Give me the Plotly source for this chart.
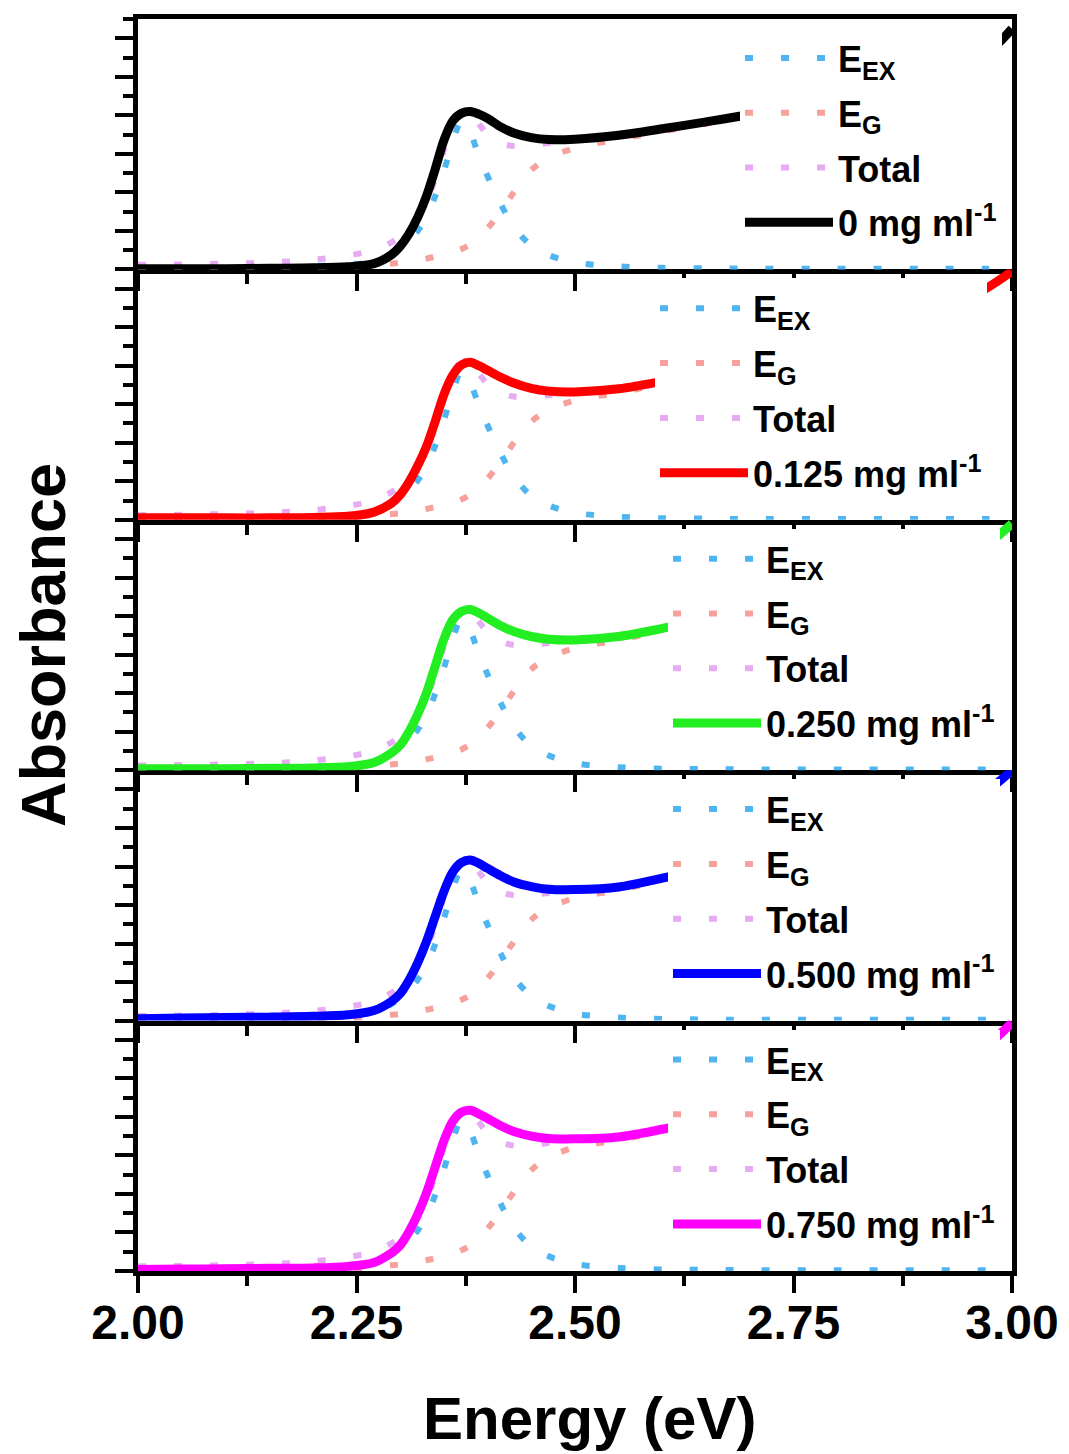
import plotly.graph_objects as go
from plotly.subplots import make_subplots

# ---------------- data ----------------
energy = [2.00, 2.05, 2.10, 2.15, 2.20, 2.24, 2.27, 2.29, 2.30, 2.31, 2.32, 2.33, 2.34, 2.35,
          2.36, 2.37, 2.38, 2.39, 2.40, 2.415, 2.43, 2.45, 2.47, 2.50, 2.55, 2.60, 2.65,
          2.70, 2.80, 2.90, 2.97, 3.00]

x_ticks = [2.00, 2.25, 2.50, 2.75, 3.00]
x_tick_labels = ["2.00", "2.25", "2.50", "2.75", "3.00"]

sample_labels = ["0 mg ml<sup>-1</sup>", "0.125 mg ml<sup>-1</sup>", "0.250 mg ml<sup>-1</sup>",
                 "0.500 mg ml<sup>-1</sup>", "0.750 mg ml<sup>-1</sup>"]
sample_colors = ["#000000", "#FF0000", "#22EE22", "#0000FF", "#FF00FF"]

# measured absorbance (arb. units)
abs_000 = [0.02, 0.02, 0.02, 0.03, 0.04, 0.07, 0.15, 0.38, 0.60, 0.92, 1.35, 1.90, 2.60, 3.35,
           3.85, 4.05, 4.10, 4.03, 3.92, 3.70, 3.54, 3.42, 3.37, 3.38, 3.48, 3.65, 3.83,
           4.02, 4.45, 4.95, 5.60, 6.25]
abs_125 = [0.05, 0.05, 0.05, 0.05, 0.06, 0.09, 0.20, 0.43, 0.65, 0.98, 1.40, 1.90, 2.55, 3.25,
           3.75, 4.02, 4.09, 4.00, 3.88, 3.70, 3.55, 3.41, 3.34, 3.32, 3.40, 3.60, 3.85,
           4.10, 4.65, 5.20, 6.00, 6.45]
abs_250 = [0.04, 0.04, 0.04, 0.05, 0.06, 0.09, 0.20, 0.45, 0.65, 1.00, 1.45, 2.00, 2.70, 3.40,
           3.90, 4.12, 4.17, 4.08, 3.95, 3.75, 3.60, 3.47, 3.40, 3.38, 3.47, 3.68, 3.92,
           4.15, 4.62, 5.10, 5.85, 6.40]
abs_500 = [0.05, 0.07, 0.08, 0.09, 0.11, 0.15, 0.26, 0.50, 0.70, 1.05, 1.50, 2.05, 2.70, 3.35,
           3.85, 4.10, 4.17, 4.08, 3.95, 3.76, 3.60, 3.48, 3.41, 3.40, 3.47, 3.70, 3.95,
           4.20, 4.70, 5.20, 5.95, 6.50]
abs_750 = [0.04, 0.05, 0.06, 0.07, 0.08, 0.12, 0.22, 0.47, 0.67, 1.02, 1.47, 2.02, 2.70, 3.38,
           3.88, 4.12, 4.17, 4.08, 3.96, 3.77, 3.62, 3.50, 3.44, 3.43, 3.48, 3.68, 3.92,
           4.18, 4.65, 5.10, 5.85, 6.45]

# excitonic component E_EX
ex_000 = [0.05, 0.05, 0.06, 0.07, 0.09, 0.12, 0.20, 0.40, 0.55, 0.75, 1.00, 1.35, 1.90, 2.55,
          3.30, 3.85, 3.55, 2.95, 2.42, 1.70, 1.10, 0.62, 0.37, 0.18, 0.08, 0.04, 0.03,
          0.02, 0.02, 0.02, 0.02, 0.02]
ex_125 = [0.05, 0.05, 0.06, 0.07, 0.09, 0.12, 0.20, 0.41, 0.56, 0.76, 1.02, 1.38, 1.92, 2.58,
          3.32, 3.85, 3.56, 2.97, 2.45, 1.72, 1.12, 0.62, 0.37, 0.18, 0.08, 0.04, 0.03,
          0.02, 0.02, 0.02, 0.02, 0.02]
ex_250 = [0.05, 0.05, 0.06, 0.07, 0.09, 0.12, 0.20, 0.42, 0.57, 0.78, 1.05, 1.42, 1.98, 2.65,
          3.40, 3.92, 3.62, 3.02, 2.48, 1.74, 1.13, 0.63, 0.38, 0.18, 0.08, 0.04, 0.03,
          0.02, 0.02, 0.02, 0.02, 0.02]
ex_500 = [0.05, 0.05, 0.06, 0.07, 0.09, 0.12, 0.21, 0.43, 0.58, 0.79, 1.06, 1.43, 1.98, 2.65,
          3.40, 3.92, 3.62, 3.02, 2.48, 1.74, 1.13, 0.63, 0.38, 0.18, 0.08, 0.04, 0.03,
          0.02, 0.02, 0.02, 0.02, 0.02]
ex_750 = [0.05, 0.05, 0.06, 0.07, 0.09, 0.12, 0.20, 0.42, 0.57, 0.78, 1.05, 1.42, 1.97, 2.64,
          3.39, 3.92, 3.62, 3.02, 2.48, 1.74, 1.13, 0.63, 0.38, 0.18, 0.08, 0.04, 0.03,
          0.02, 0.02, 0.02, 0.02, 0.02]

# band-gap (continuum) component E_G
eg_000 = [0.00, 0.00, 0.01, 0.01, 0.03, 0.06, 0.10, 0.15, 0.17, 0.20, 0.24, 0.28, 0.33, 0.38,
          0.45, 0.53, 0.65, 0.85, 1.07, 1.50, 2.00, 2.58, 2.90, 3.15, 3.38, 3.58, 3.78,
          3.98, 4.40, 4.90, 5.55, 6.20]
eg_125 = [0.00, 0.00, 0.01, 0.01, 0.03, 0.06, 0.10, 0.15, 0.17, 0.20, 0.24, 0.28, 0.33, 0.38,
          0.45, 0.53, 0.65, 0.85, 1.07, 1.50, 2.00, 2.55, 2.85, 3.10, 3.30, 3.53, 3.80,
          4.08, 4.60, 5.15, 5.95, 6.40]
eg_250 = [0.00, 0.00, 0.01, 0.01, 0.03, 0.06, 0.10, 0.15, 0.17, 0.20, 0.24, 0.28, 0.33, 0.39,
          0.46, 0.54, 0.66, 0.87, 1.10, 1.54, 2.05, 2.62, 2.92, 3.17, 3.38, 3.62, 3.88,
          4.12, 4.58, 5.05, 5.80, 6.35]
eg_500 = [0.00, 0.00, 0.01, 0.01, 0.03, 0.06, 0.10, 0.15, 0.17, 0.20, 0.24, 0.28, 0.33, 0.39,
          0.46, 0.54, 0.66, 0.87, 1.10, 1.54, 2.05, 2.62, 2.93, 3.18, 3.39, 3.64, 3.90,
          4.16, 4.65, 5.15, 5.90, 6.45]
eg_750 = [0.00, 0.00, 0.01, 0.01, 0.03, 0.06, 0.10, 0.15, 0.17, 0.20, 0.24, 0.28, 0.33, 0.39,
          0.46, 0.54, 0.66, 0.87, 1.10, 1.54, 2.05, 2.62, 2.95, 3.21, 3.40, 3.62, 3.88,
          4.14, 4.60, 5.05, 5.80, 6.40]

# total fit
tot_000 = [0.12, 0.13, 0.15, 0.18, 0.25, 0.36, 0.50, 0.70, 0.85, 1.05, 1.35, 1.75, 2.35, 3.10,
           3.80, 4.12, 4.05, 3.78, 3.50, 3.28, 3.20, 3.22, 3.28, 3.34, 3.46, 3.63, 3.82,
           4.00, 4.42, 4.92, 5.57, 6.22]
tot_125 = [0.12, 0.13, 0.15, 0.18, 0.25, 0.36, 0.50, 0.72, 0.87, 1.08, 1.38, 1.80, 2.40, 3.12,
           3.80, 4.10, 4.04, 3.79, 3.52, 3.30, 3.20, 3.20, 3.24, 3.30, 3.38, 3.57, 3.83,
           4.10, 4.62, 5.17, 5.97, 6.42]
tot_250 = [0.12, 0.13, 0.15, 0.18, 0.25, 0.36, 0.50, 0.72, 0.88, 1.10, 1.42, 1.85, 2.48, 3.22,
           3.90, 4.18, 4.10, 3.86, 3.58, 3.35, 3.25, 3.26, 3.30, 3.35, 3.46, 3.66, 3.91,
           4.14, 4.60, 5.07, 5.82, 6.37]
tot_500 = [0.12, 0.13, 0.15, 0.18, 0.25, 0.36, 0.50, 0.72, 0.88, 1.10, 1.42, 1.85, 2.48, 3.22,
           3.90, 4.18, 4.10, 3.86, 3.58, 3.35, 3.25, 3.26, 3.31, 3.36, 3.47, 3.68, 3.93,
           4.18, 4.67, 5.17, 5.92, 6.47]
tot_750 = [0.12, 0.13, 0.15, 0.18, 0.25, 0.36, 0.50, 0.72, 0.88, 1.10, 1.42, 1.85, 2.47, 3.21,
           3.90, 4.18, 4.10, 3.86, 3.58, 3.35, 3.25, 3.26, 3.33, 3.39, 3.48, 3.66, 3.91,
           4.16, 4.62, 5.07, 5.82, 6.42]

abs_sets = [abs_000, abs_125, abs_250, abs_500, abs_750]
ex_sets = [ex_000, ex_125, ex_250, ex_500, ex_750]
eg_sets = [eg_000, eg_125, eg_250, eg_500, eg_750]
tot_sets = [tot_000, tot_125, tot_250, tot_500, tot_750]

# ---------------- styling / layout ----------------
FONT = "Liberation Sans, Arial, sans-serif"
EX_COLOR = "#4FB5F0"
EG_COLOR = "#F6A19B"
TOT_COLOR = "#E6ABF3"
DOT = "8px,28px"

PAGE_OFF = 8                      # default body margin of the html page
W, H = 1069 - PAGE_OFF, 1454 - PAGE_OFF
ML, MT = 130, 11
PW, PH = 874, 1252
MR = W - ML - PW
MB = H - MT - PH
PLOT_LEFT = PAGE_OFF + ML          # page px
PLOT_BOTTOM = PAGE_OFF + MT + PH   # page px


def px_to_paper_x(px):
    return (px - PLOT_LEFT) / PW


def px_to_paper_y(py):
    return (PLOT_BOTTOM - py) / PH


legend_left_px = [740, 655, 668, 668, 668]
panel_top_px = [PAGE_OFF + MT + i * PH / 5 for i in range(5)]

fig = make_subplots(rows=5, cols=1, vertical_spacing=0)

for i in range(5):
    r = i + 1
    lg = "legend" if i == 0 else f"legend{r}"
    common = dict(x=energy, mode="lines", legend=lg, line_shape="spline")
    fig.add_trace(go.Scatter(name="E<sub>EX</sub>", y=ex_sets[i], legendgroup=f"ex{r}",
                             line=dict(color=EX_COLOR, width=6, dash=DOT, smoothing=0.9), **common),
                  row=r, col=1)
    fig.add_trace(go.Scatter(name="E<sub>G</sub>", y=eg_sets[i], legendgroup=f"eg{r}",
                             line=dict(color=EG_COLOR, width=6, dash=DOT, smoothing=0.9), **common),
                  row=r, col=1)
    fig.add_trace(go.Scatter(name="Total", y=tot_sets[i], legendgroup=f"tot{r}",
                             line=dict(color=TOT_COLOR, width=6, dash=DOT, smoothing=0.9), **common),
                  row=r, col=1)
    fig.add_trace(go.Scatter(name=sample_labels[i], y=abs_sets[i], legendgroup=f"abs{r}",
                             line=dict(color=sample_colors[i], width=9, smoothing=0.9), **common),
                  row=r, col=1)

    fig.update_xaxes(row=r, col=1, range=[2.0, 3.0], tickvals=x_ticks, ticktext=x_tick_labels,
                     showticklabels=(r == 5), ticks="outside", ticklen=17, tickwidth=4,
                     tickcolor="black", showline=True, linewidth=5, linecolor="black",
                     mirror=(r == 1), showgrid=False, zeroline=False, layer="below traces",
                     minor=dict(dtick=0.125, tick0=2.0, ticks="outside", ticklen=10,
                                tickwidth=4, tickcolor="black", showgrid=False),
                     tickfont=dict(family=FONT, size=48, color="black", weight="bold"),
                     ticklabelstandoff=-12, automargin=False)
    fig.update_yaxes(row=r, col=1, range=[0, 6.5], dtick=1, tick0=0, showticklabels=False,
                     ticks="outside", ticklen=18, tickwidth=4, tickcolor="black",
                     showline=True, linewidth=5, linecolor="black", mirror=True,
                     showgrid=False, zeroline=False, layer="below traces",
                     minor=dict(dtick=0.5, ticks="outside", ticklen=10, tickwidth=4,
                                tickcolor="black", showgrid=False),
                     automargin=False)

    legend_cfg = dict(
        x=px_to_paper_x(legend_left_px[i]),
        y=px_to_paper_y(panel_top_px[i] + 9),
        xanchor="left", yanchor="top",
        bgcolor="white", borderwidth=0,
        font=dict(family=FONT, size=36, color="black", weight="bold"),
        itemwidth=88, traceorder="grouped", tracegroupgap=5,
    )
    fig.update_layout(**{lg: legend_cfg})

fig.update_yaxes(row=3, col=1, title=dict(text="Absorbance", standoff=45,
                 font=dict(family=FONT, size=63, color="black", weight="bold")))

fig.add_annotation(text="Energy (eV)", xref="paper", yref="paper",
                   x=px_to_paper_x(589), y=px_to_paper_y(1418),
                   xanchor="center", yanchor="middle", showarrow=False,
                   font=dict(family=FONT, size=60, color="black", weight="bold"))

fig.update_layout(width=W, height=H, margin=dict(l=ML, r=MR, t=MT, b=MB),
                  plot_bgcolor="white", paper_bgcolor="white", showlegend=True)

fig.write_html("out.html")
